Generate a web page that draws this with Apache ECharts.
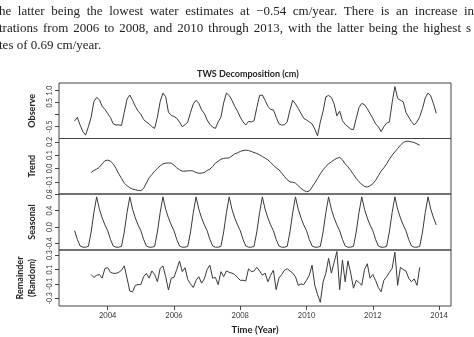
<!DOCTYPE html>
<html><head><meta charset="utf-8">
<script src="https://cdn.jsdelivr.net/npm/echarts@6/dist/echarts.min.js"></script>
<style>html,body{margin:0;padding:0;background:#fff;}#c{width:474px;height:337px;}</style>
</head><body><div id="c"></div>
<script>
// Monthly series, Jan 2003 .. Dec 2013 (132 months)
const startYear = 2003;
const observed = [
 -0.26,-0.11,-0.43,-0.70,-0.85,-0.50,-0.10,0.55,0.72,0.62,0.35,0.22,
 0.05,-0.12,-0.38,-0.43,-0.42,-0.45,0.10,0.65,0.82,0.60,0.35,0.15,
 0.02,-0.20,-0.30,-0.38,-0.50,-0.57,-0.10,0.55,0.90,0.75,0.10,-0.03,
 -0.07,-0.15,-0.30,-0.50,-0.42,-0.30,0.10,0.45,0.60,0.47,0.20,0.05,
 -0.22,-0.40,-0.52,-0.57,-0.30,-0.10,0.50,0.90,0.80,0.60,0.35,0.15,
 -0.10,-0.30,-0.43,-0.28,-0.30,-0.25,0.30,0.80,0.82,0.60,0.35,0.22,
 0.20,-0.10,-0.38,-0.43,-0.42,-0.30,0.20,0.60,0.45,0.26,0.05,-0.15,
 -0.22,-0.30,-0.38,-0.60,-0.88,-0.30,0.15,0.75,0.80,0.72,0.45,-0.05,
 0.15,-0.25,-0.40,-0.50,-0.60,-0.62,-0.15,0.30,0.47,0.42,0.25,0.05,
 -0.15,-0.38,-0.50,-0.70,-0.50,-0.35,-0.30,0.50,1.17,0.68,0.60,0.54,
 0.10,-0.10,-0.29,-0.43,-0.30,-0.08,0.26,0.70,0.90,0.78,0.45,0.06
];
// Trend and remainder start at month index 6 (Jul 2003)
const trendStart = 6;
const trend = [
 -0.030,-0.015,-0.005,0.010,0.035,0.058,
 0.063,0.055,0.035,0.000,-0.040,-0.075,-0.110,-0.130,-0.145,-0.155,-0.160,-0.165,
 -0.167,-0.150,-0.110,-0.070,-0.045,-0.020,0.000,0.020,0.035,0.040,0.042,0.040,
 0.025,0.005,-0.010,-0.020,-0.020,-0.018,-0.016,-0.020,-0.030,-0.036,-0.035,-0.030,
 -0.015,-0.005,0.015,0.040,0.055,0.070,0.076,0.078,0.080,0.095,0.110,0.118,
 0.128,0.135,0.138,0.135,0.128,0.120,0.113,0.103,0.090,0.078,0.065,0.045,
 0.025,0.005,-0.010,-0.035,-0.060,-0.085,-0.100,-0.104,-0.110,-0.130,-0.150,-0.165,
 -0.175,-0.170,-0.140,-0.110,-0.075,-0.040,-0.010,0.015,0.035,0.050,0.065,0.077,
 0.083,0.065,0.035,0.013,-0.015,-0.045,-0.075,-0.100,-0.120,-0.135,-0.140,-0.130,
 -0.115,-0.090,-0.055,-0.020,0.005,0.035,0.070,0.100,0.125,0.150,0.175,0.195,
 0.205,0.205,0.200,0.195,0.185,0.175
];
const seasonal = [
 -0.09,-0.30,-0.46,-0.49,-0.49,-0.47,-0.12,0.35,0.73,0.43,0.22,0.05,
 -0.09,-0.30,-0.46,-0.49,-0.49,-0.47,-0.12,0.35,0.73,0.43,0.22,0.05,
 -0.09,-0.30,-0.46,-0.49,-0.49,-0.47,-0.12,0.35,0.73,0.43,0.22,0.05,
 -0.09,-0.30,-0.46,-0.49,-0.49,-0.47,-0.12,0.35,0.73,0.43,0.22,0.05,
 -0.09,-0.30,-0.46,-0.49,-0.49,-0.47,-0.12,0.35,0.73,0.43,0.22,0.05,
 -0.09,-0.30,-0.46,-0.49,-0.49,-0.47,-0.12,0.35,0.73,0.43,0.22,0.05,
 -0.09,-0.30,-0.46,-0.49,-0.49,-0.47,-0.12,0.35,0.73,0.43,0.22,0.05,
 -0.09,-0.30,-0.46,-0.49,-0.49,-0.47,-0.12,0.35,0.73,0.43,0.22,0.05,
 -0.09,-0.30,-0.46,-0.49,-0.49,-0.47,-0.12,0.35,0.73,0.43,0.22,0.05,
 -0.09,-0.30,-0.46,-0.49,-0.49,-0.47,-0.12,0.35,0.73,0.43,0.22,0.05,
 -0.09,-0.30,-0.46,-0.49,-0.49,-0.47,-0.12,0.35,0.73,0.43,0.22,0.05
];
const remainder = [
 0.03,-0.01,0.02,0.03,-0.02,0.116,
 0.125,0.06,0.047,0.047,0.06,0.09,0.15,-0.02,-0.20,-0.21,-0.12,-0.11,
 -0.11,0.00,0.047,-0.02,0.08,0.03,-0.07,0.116,0.15,0.00,-0.185,-0.02,
 -0.01,0.10,0.218,0.07,0.125,-0.04,-0.10,-0.15,-0.05,0.00,-0.09,-0.03,
 0.10,0.16,-0.02,-0.01,-0.11,0.07,0.00,0.08,0.06,0.05,0.03,-0.01,
 -0.05,-0.05,-0.06,0.11,0.07,0.08,0.13,0.08,0.02,0.05,-0.07,0.02,
 0.09,-0.18,-0.02,0.03,0.09,0.11,0.08,0.05,0.00,-0.12,-0.10,-0.11,
 -0.05,0.02,0.16,-0.12,-0.25,-0.356,-0.07,0.047,0.255,0.05,0.20,0.35,
 -0.18,0.23,-0.07,0.22,0.05,-0.16,-0.05,-0.08,-0.12,0.10,0.18,-0.02,
 0.03,-0.05,-0.15,-0.21,-0.05,0.00,0.06,0.116,0.34,-0.12,0.13,0.10,
 0.08,-0.02,-0.07,-0.03,-0.12,0.13
];
const panelNames = ['Observe','Trend','Seasonal','Remainder\n(Random)'];
const yTicks = [[-0.5,0,0.5,1.0],[-0.1,0,0.1,0.2],[-0.4,0,0.4,0.8],[-0.3,-0.1,0.1,0.3]];
const yLabels = [[-0.5,0.5,1.0],[-0.1,0,0.1,0.2],[-0.4,0,0.4,0.8],[-0.3,-0.1,0.1,0.3]];
const xTickYears = [2004,2006,2008,2010,2012,2014];
const titleText = 'TWS Decomposition (cm)';
const xName = 'Time (Year)';
const paraLines = [
 'he latter being the lowest water estimates at \u22120.54 cm/year.  There is an increase in',
 'trations from 2006 to 2008, and 2010 through 2013, with the latter being the highest s',
 'tes of 0.69 cm/year.'
];

function toPairs(arr, offset){ return arr.map((v,i)=>[startYear + (i+offset)/12, v]); }

const seriesData = [toPairs(observed,0), toPairs(trend,trendStart), toPairs(seasonal,0), toPairs(remainder,trendStart)];
const yRanges = [[-0.99,1.32],[-0.192,0.2256],[-0.558,0.8],[-0.407,0.371]];
const grids = [
 {left:59,right:23,top:83,height:55.5},
 {left:59,right:23,top:138.5,height:55.5},
 {left:59,right:23,top:194,height:56},
 {left:59,right:23,top:250,height:56}
].map(g=>Object.assign(g,{show:true,borderColor:'#444',borderWidth:1,backgroundColor:'transparent'}));

const fmt = v => (Math.abs(v)<1e-9 ? '0.0' : (Math.round(v*10)/10).toFixed(1));
const xAxes = grids.map((g,i)=>({
 type:'value', gridIndex:i, min:2002.53, max:2014.36, position:'bottom',
 axisLine:{show:false, onZero:false}, splitLine:{show:false},
 axisTick:{show:i===3, length:4, lineStyle:{color:'#444'}, customValues:xTickYears},
 axisLabel:{show:i===3, margin:6, fontSize:7.5, color:'#333', fontFamily:'Lato', customValues:xTickYears, formatter:v=>String(v)},
 name: i===3 ? xName : '', nameLocation:'middle', nameGap:19,
 nameTextStyle:{fontSize:9.5, fontWeight:'bold', color:'#222', fontFamily:'Lato'}
}));
const yAxes = grids.map((g,i)=>({
 type:'value', gridIndex:i, min:yRanges[i][0], max:yRanges[i][1], position:'left',
 axisLine:{show:false, onZero:false}, splitLine:{show:false},
 axisTick:{show:true, length:4, lineStyle:{color:'#444'}, customValues:yTicks[i]},
 axisLabel:{show:true, rotate:90, margin:6, fontSize:7, color:'#333', fontFamily:'Lato', customValues:yLabels[i], formatter:fmt, showMinLabel:true, showMaxLabel:true, hideOverlap:false},
 name:panelNames[i], nameLocation:'middle', nameRotate:90, nameGap:19,
 nameTextStyle:{fontSize:9, fontWeight:'bold', color:'#222', fontFamily:'Lato', lineHeight:12}
}));
const series = seriesData.map((d,i)=>({
 type:'line', xAxisIndex:i, yAxisIndex:i, data:d, showSymbol:false, symbol:'none',
 lineStyle:{color:'#3a3a3a', width:1}, animation:false, silent:true
}));

// paragraph text (justified lines)
const paraFont = '13px "Liberation Serif"';
const mctx = document.createElement('canvas').getContext('2d');
mctx.font = paraFont;
const paraGraphics = [];
function addLine(text, y, lastWordX){
 if (lastWordX == null){
  paraGraphics.push({type:'text', x:-1, y:y, style:{text:text, font:paraFont, fill:'#222'}});
  return;
 }
 const words = text.split(/ +/);
 const widths = words.map(w=>mctx.measureText(w).width);
 const sp = mctx.measureText(' ').width;
 const natural = widths.slice(0,-1).reduce((a,b)=>a+b,0) + sp*(words.length-1);
 const extra = (lastWordX + 1 - natural) / (words.length-1);
 let x = -1;
 words.forEach((w,k)=>{
  paraGraphics.push({type:'text', x:x, y:y, style:{text:w, font:paraFont, fill:'#222'}});
  x += widths[k] + sp + extra;
 });
}
addLine(paraLines[0], 5, 464);
addLine(paraLines[1], 22, 466);
addLine(paraLines[2], 39, null);

const chart = echarts.init(document.getElementById('c'), null, {renderer:'canvas'});
chart.setOption({
 animation:false,
 backgroundColor:'#fff',
 title:{text:titleText, left:192, top:65, textStyle:{fontSize:9, fontWeight:'bold', color:'#222', fontFamily:'Lato'}},
 grid:grids, xAxis:xAxes, yAxis:yAxes, series:series,
 graphic: paraGraphics
});
</script></body></html>
